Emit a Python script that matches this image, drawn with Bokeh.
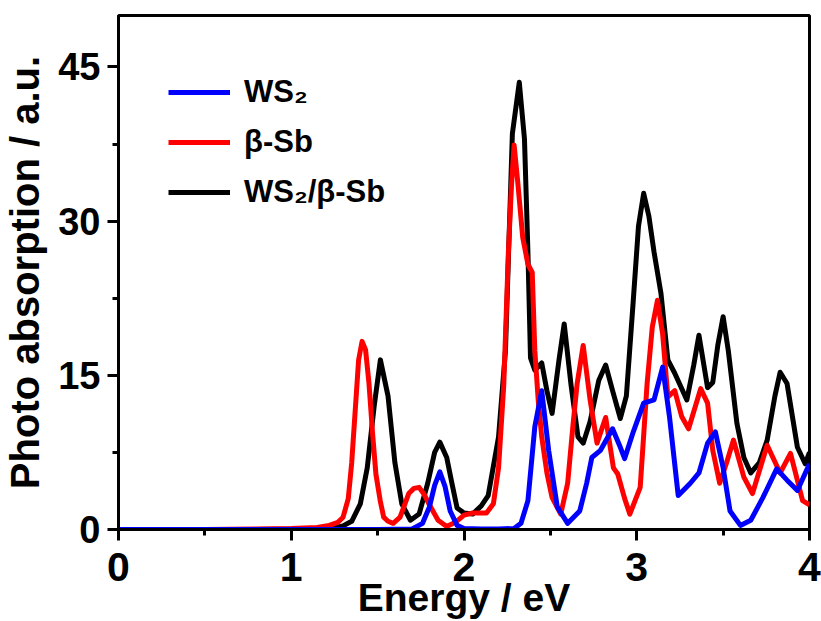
from bokeh.plotting import figure
from bokeh.models import Range1d, FixedTicker, Legend, LegendItem
from bokeh.embed import file_html
from bokeh.resources import INLINE

# ---- data ----
x_ticks = [0, 1, 2, 3, 4]
x_tick_labels = ["0", "1", "2", "3", "4"]
x_minor = [0.5, 1.5, 2.5, 3.5]
y_ticks = [0, 15, 30, 45]
y_tick_labels = ["0", "15", "30", "45"]
y_minor = [7.5, 22.5, 37.5]

series_names = ["WS\u2082", "\u03b2-Sb", "WS\u2082/\u03b2-Sb"]
series_colors = ["#0000FF", "#FF0000", "#000000"]

ws2_x = [0.0, 0.5, 1.0, 1.5, 1.7, 1.76, 1.8, 1.83, 1.86, 1.89, 1.92, 1.96, 2.0, 2.1, 2.2, 2.29,
         2.33, 2.37, 2.41, 2.45, 2.49, 2.54, 2.6, 2.67, 2.71, 2.74, 2.79, 2.82, 2.86, 2.9, 2.93,
         2.98, 3.04, 3.1, 3.15, 3.19, 3.24, 3.31, 3.36, 3.41, 3.455, 3.5, 3.54, 3.6, 3.66,
         3.73, 3.81, 3.87, 3.93, 4.0]
ws2_y = [0.0, 0.0, 0.0, 0.0, 0.05, 0.6, 2.2, 4.3, 5.6, 4.2, 1.8, 0.4, 0.1, 0.05, 0.05, 0.1,
         0.6, 2.8, 10.0, 13.5, 7.7, 2.2, 0.6, 1.8, 4.5, 7.0, 7.7, 8.6, 9.8, 8.2, 6.9,
         9.5, 12.3, 12.6, 15.8, 10.9, 3.3, 4.5, 5.5, 8.4, 9.5, 6.0, 1.8, 0.4, 0.9,
         3.1, 5.9, 4.8, 3.8, 6.4]

sb_x = [0.0, 0.5, 0.8, 1.0, 1.15, 1.22, 1.27, 1.3, 1.33, 1.35, 1.37, 1.39, 1.41, 1.43, 1.45,
        1.47, 1.49, 1.515, 1.535, 1.56, 1.59, 1.63, 1.68, 1.71, 1.74, 1.77, 1.8, 1.85, 1.9,
        1.95, 2.0, 2.05, 2.13, 2.17, 2.2, 2.23, 2.257, 2.275, 2.29, 2.31, 2.34, 2.37, 2.395,
        2.41, 2.43, 2.45, 2.48, 2.51, 2.56, 2.6, 2.63, 2.655, 2.69, 2.73, 2.77, 2.82, 2.865,
        2.89, 2.93, 2.96, 3.02, 3.06, 3.09, 3.12, 3.15, 3.18, 3.22, 3.26, 3.3, 3.37, 3.41,
        3.44, 3.48, 3.52, 3.56, 3.62, 3.67, 3.755, 3.83, 3.89, 3.96, 4.0]
sb_y = [0.0, 0.0, 0.05, 0.1, 0.2, 0.4, 0.7, 1.2, 3.0, 6.5, 11.5, 16.5, 18.3, 17.5, 14.2,
        9.5, 5.4, 2.8, 1.2, 0.8, 0.6, 1.2, 3.5, 4.0, 4.1, 3.4, 2.4, 0.9, 0.3,
        0.7, 1.4, 1.6, 1.6, 2.5, 6.0, 14.0, 27.0, 33.5, 37.4, 34.0, 28.4, 25.8, 25.0,
        17.4, 12.5, 9.0, 5.5, 3.1, 1.5, 4.5, 10.0, 14.2, 17.9, 12.6, 8.4, 10.9, 6.0,
        5.4, 3.0, 1.5, 4.1, 14.2, 19.7, 22.3, 19.0, 12.9, 13.5, 11.0, 9.8, 13.7, 12.3,
        7.7, 4.5, 6.5, 8.7, 5.1, 3.5, 8.2, 5.5, 7.4, 2.8, 2.4]

hetero_x = [0.0, 0.5, 1.0, 1.15, 1.25, 1.3, 1.35, 1.4, 1.44, 1.48, 1.516, 1.56, 1.6, 1.64,
            1.69, 1.74, 1.79, 1.83, 1.86, 1.9, 1.93, 1.96, 2.0, 2.05, 2.1, 2.14, 2.2, 2.24,
            2.28, 2.32, 2.35, 2.37, 2.385, 2.41, 2.45, 2.48, 2.51, 2.55, 2.58, 2.62, 2.66,
            2.69, 2.73, 2.78, 2.82, 2.86, 2.905, 2.94, 2.98, 3.01, 3.04, 3.07, 3.1, 3.14,
            3.18, 3.22, 3.29, 3.33, 3.36, 3.41, 3.44, 3.47, 3.5, 3.53, 3.58, 3.62, 3.66,
            3.71, 3.755, 3.8, 3.83, 3.87, 3.93, 3.975, 4.0]
hetero_y = [0.0, 0.0, 0.02, 0.08, 0.2, 0.35, 0.8, 2.5, 6.0, 12.0, 16.5, 13.0, 6.5, 2.5,
            0.9, 1.5, 4.5, 7.5, 8.5, 7.0, 4.5, 2.1, 1.6, 1.5, 2.3, 3.3, 9.0, 17.4,
            38.5, 43.5, 38.0, 27.0, 16.7, 15.5, 16.2, 13.5, 11.3, 16.5, 20.0, 14.0, 9.0,
            8.4, 10.5, 14.5, 16.0, 13.5, 10.8, 13.0, 22.3, 29.5, 32.7, 30.5, 27.0, 23.0,
            16.5, 15.2, 12.6, 16.0, 18.9, 13.8, 14.3, 18.0, 20.7, 17.4, 10.3, 7.0, 5.5,
            6.5, 8.7, 13.0, 15.3, 14.2, 8.0, 6.4, 7.5]

FONT = "Liberation Sans"

p = figure(width=821, height=621, output_backend="svg", toolbar_location=None,
           x_range=Range1d(0, 4), y_range=Range1d(0, 50),
           min_border_left=118, min_border_right=12, min_border_top=15, min_border_bottom=92)
p.grid.visible = False
p.outline_line_color = "black"
p.outline_line_width = 3
p.background_fill_color = "white"
p.border_fill_color = "white"

r_black = p.line(hetero_x, hetero_y, line_color=series_colors[2], line_width=5, line_join="round")
r_red = p.line(sb_x, sb_y, line_color=series_colors[1], line_width=5, line_join="round")
r_blue = p.line(ws2_x, ws2_y, line_color=series_colors[0], line_width=5, line_join="round")

# axes
xa = p.xaxis[0]
xa.ticker = FixedTicker(ticks=x_ticks, minor_ticks=x_minor)
xa.major_label_overrides = {t: l for t, l in zip(x_ticks, x_tick_labels)}
xa.axis_label = "Energy / eV"
ya = p.yaxis[0]
ya.ticker = FixedTicker(ticks=y_ticks, minor_ticks=y_minor)
ya.major_label_overrides = {t: l for t, l in zip(y_ticks, y_tick_labels)}
ya.axis_label = "Photo absorption / a.u."

for ax in (xa, ya):
    ax.axis_line_width = 3
    ax.axis_line_color = "black"
    ax.major_tick_line_width = 3
    ax.minor_tick_line_width = 3
    ax.major_tick_out = 11
    ax.major_tick_in = 0
    ax.minor_tick_out = 6
    ax.minor_tick_in = 0
    ax.major_label_text_font = FONT
    ax.major_label_text_font_style = "bold"
    ax.major_label_text_color = "black"
    ax.axis_label_text_font = FONT
    ax.axis_label_text_font_style = "bold"
    ax.axis_label_text_color = "black"

xa.major_label_text_font_size = "41px"
xa.major_label_standoff = 12
xa.axis_label_text_font_size = "39px"
xa.axis_label_standoff = -8
ya.major_label_text_font_size = "38px"
ya.major_label_standoff = 7
ya.axis_label_text_font_size = "40px"
ya.axis_label_standoff = 8

legend = Legend(items=[LegendItem(label=series_names[0], renderers=[r_blue]),
                       LegendItem(label=series_names[1], renderers=[r_red]),
                       LegendItem(label=series_names[2], renderers=[r_black])],
                location=(50, 319), orientation="vertical")
legend.label_text_font = FONT
legend.label_text_font_style = "bold"
legend.label_text_font_size = "31px"
legend.label_text_color = "black"
legend.glyph_width = 62
legend.glyph_height = 30
legend.label_height = 30
legend.label_standoff = 14
legend.spacing = 14
legend.padding = 0
legend.margin = 0
legend.border_line_color = None
legend.background_fill_alpha = 0
p.add_layout(legend, "center")

open("out.html", "w").write(file_html(p, INLINE))
